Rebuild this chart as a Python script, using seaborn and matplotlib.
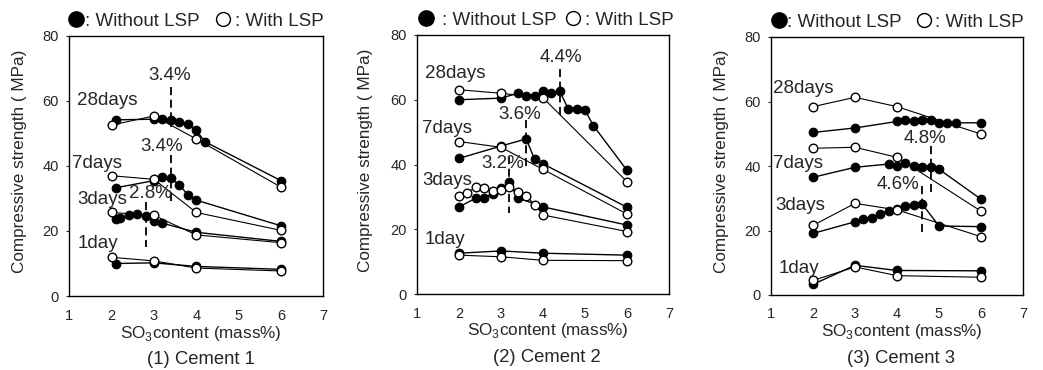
import matplotlib
matplotlib.use("Agg")
import matplotlib.pyplot as plt
import seaborn as sns
import pandas as pd

sns.set_style("ticks")
plt.rcParams['font.family'] = ['Liberation Sans', 'DejaVu Sans']
plt.rcParams['mathtext.fontset'] = 'custom'
plt.rcParams['mathtext.rm'] = 'Liberation Sans'

# ---------------- data ----------------
ages = ["28days", "7days", "3days", "1day"]

# Cement 1
c1_wo_x = {"28days": [2.1, 3.0, 3.2, 3.4, 3.6, 3.8, 4.0, 4.2, 6.0],
           "7days": [2.1, 3.0, 3.2, 3.4, 3.6, 3.8, 4.0, 6.0],
           "3days": [2.1, 2.2, 2.4, 2.6, 2.8, 3.0, 3.2, 4.0, 6.0],
           "1day": [2.1, 3.0, 4.0, 6.0]}
c1_wo_y = {"28days": [54.2, 54.4, 54.4, 54.0, 53.4, 52.8, 51.0, 47.5, 35.5],
           "7days": [33.3, 35.5, 36.6, 36.2, 34.2, 31.1, 29.5, 21.6],
           "3days": [23.6, 23.9, 24.9, 25.2, 24.7, 23.1, 22.4, 19.6, 16.8],
           "1day": [10.0, 10.2, 9.1, 8.2]}
c1_w_x = {"28days": [2, 3, 4, 6], "7days": [2, 3, 4, 6],
          "3days": [2, 3, 4, 6], "1day": [2, 3, 4, 6]}
c1_w_y = {"28days": [52.6, 55.4, 48.3, 33.5],
          "7days": [37.0, 35.9, 25.7, 20.2],
          "3days": [25.7, 24.8, 18.8, 16.4],
          "1day": [11.9, 10.8, 8.6, 7.7]}

# Cement 2
c2_wo_x = {"28days": [2, 3, 3.4, 3.6, 3.8, 4.0, 4.2, 4.4, 4.6, 4.8, 5.0, 5.2, 6],
           "7days": [2, 3, 3.6, 3.8, 4.0, 6],
           "3days": [2, 2.4, 2.6, 2.8, 3.0, 3.2, 3.4, 4.0, 6],
           "1day": [2, 3, 4, 6]}
c2_wo_y = {"28days": [60.0, 60.5, 62.0, 61.2, 61.2, 62.6, 62.0, 62.6, 57.2, 57.2, 56.8, 52.0, 38.2],
           "7days": [41.9, 45.7, 47.9, 41.6, 40.2, 26.8],
           "3days": [26.9, 29.6, 29.6, 31.0, 32.6, 34.6, 29.7, 26.9, 21.3],
           "1day": [12.6, 13.3, 12.6, 12.0]}
c2_w_x = {"28days": [2, 3, 4, 6], "7days": [2, 3, 4, 6],
          "3days": [2, 2.2, 2.4, 2.6, 2.8, 3.0, 3.2, 3.4, 3.6, 3.8, 4.0, 6],
          "1day": [2, 3, 4, 6]}
c2_w_y = {"28days": [63.1, 62.0, 60.6, 34.7],
          "7days": [47.1, 45.3, 38.5, 24.7],
          "3days": [30.4, 31.2, 33.1, 32.8, 31.9, 32.2, 33.2, 31.5, 30.3, 27.6, 24.4, 19.3],
          "1day": [12.0, 11.5, 10.4, 10.3]}

# Cement 3
c3_wo_x = {"28days": [2, 3, 4.0, 4.2, 4.4, 4.6, 4.8, 5.0, 5.2, 5.4, 6],
           "7days": [2, 3, 3.8, 4.0, 4.2, 4.4, 4.6, 4.8, 5.0, 6],
           "3days": [2, 3, 3.2, 3.4, 3.6, 3.8, 4.0, 4.2, 4.4, 4.6, 5.0, 6],
           "1day": [2, 3, 4, 6]}
c3_wo_y = {"28days": [50.4, 51.8, 53.8, 54.4, 53.8, 54.4, 54.4, 53.4, 53.4, 53.4, 53.4],
           "7days": [36.5, 39.6, 40.6, 40.0, 40.8, 40.0, 39.6, 39.8, 39.0, 29.7],
           "3days": [19.1, 22.7, 23.6, 23.9, 25.1, 26.1, 26.8, 27.6, 27.9, 28.2, 21.4, 21.2],
           "1day": [3.3, 9.2, 7.6, 7.5]}
c3_w_x = {"28days": [2, 3, 4, 6], "7days": [2, 3, 4, 6],
          "3days": [2, 3, 4, 6], "1day": [2, 3, 4, 6]}
c3_w_y = {"28days": [58.4, 61.3, 58.4, 49.9],
          "7days": [45.5, 45.8, 42.7, 26.0],
          "3days": [21.6, 28.4, 26.4, 18.1],
          "1day": [4.5, 8.7, 6.0, 5.5]}

# age label positions (data coords, left aligned)
c1_age_pos = {"28days": (1.19, 60.3), "7days": (1.07, 40.9), "3days": (1.18, 29.7), "1day": (1.2, 16.2)}
c2_age_pos = {"28days": (1.18, 68.0), "7days": (1.13, 51.2), "3days": (1.13, 35.2), "1day": (1.18, 16.9)}
c3_age_pos = {"28days": (1.04, 64.1), "7days": (1.04, 40.8), "3days": (1.10, 27.9), "1day": (1.17, 8.3)}

# optimum SO3 markers: (label, label_x, label_y, line_x, y_top, y_bottom)
c1_opt = [("3.4%", 3.37, 67.7, 3.4, 64.3, 52.0),
          ("3.4%", 3.17, 45.9, 3.4, 43.5, 29.0),
          ("2.8%", 2.92, 31.6, 2.8, 29.0, 15.2)]
c2_opt = [("4.4%", 4.43, 72.9, 4.4, 69.4, 55.3),
          ("3.6%", 3.44, 55.5, 3.6, 53.7, 39.3),
          ("3.2%", 3.03, 40.4, 3.2, 42.5, 25.0)]
c3_opt = [("4.8%", 4.67, 48.6, 4.8, 46.3, 31.5),
          ("4.6%", 4.03, 34.4, 4.6, 33.8, 19.6)]

titles = ["(1) Cement 1", "(2) Cement 2", "(3) Cement 3"]

panels = [
    dict(wo_x=c1_wo_x, wo_y=c1_wo_y, w_x=c1_w_x, w_y=c1_w_y, age=c1_age_pos, opt=c1_opt,
         rect=[69.3 / 1043, 74 / 370, 254 / 1043, 260 / 370],
         leg=(0.026, 0.062, 0.606, 0.652), ylab_x=-0.198),
    dict(wo_x=c2_wo_x, wo_y=c2_wo_y, w_x=c2_w_x, w_y=c2_w_y, age=c2_age_pos, opt=c2_opt,
         rect=[417 / 1043, 76 / 370, 252 / 1043, 259 / 370],
         leg=(0.036, 0.100, 0.620, 0.668), ylab_x=-0.206),
    dict(wo_x=c3_wo_x, wo_y=c3_wo_y, w_x=c3_w_x, w_y=c3_w_y, age=c3_age_pos, opt=c3_opt,
         rect=[771 / 1043, 75 / 370, 252 / 1043, 258 / 370],
         leg=(0.033, 0.062, 0.607, 0.652), ylab_x=-0.196),
]

fig = plt.figure(figsize=(10.43, 3.7), dpi=100)

for i, p in enumerate(panels):
    ax = fig.add_axes(p["rect"])
    for a in ages:
        df = pd.DataFrame({"x": p["wo_x"][a], "y": p["wo_y"][a]})
        sns.lineplot(data=df, x="x", y="y", ax=ax, color="black", linewidth=1.0,
                     marker="o", markersize=6.2, markerfacecolor="black",
                     markeredgecolor="black", markeredgewidth=0.8,
                     estimator=None, sort=False, zorder=3)
    for a in ages:
        df = pd.DataFrame({"x": p["w_x"][a], "y": p["w_y"][a]})
        sns.lineplot(data=df, x="x", y="y", ax=ax, color="black", linewidth=0.8,
                     marker="o", markersize=6.2, markerfacecolor="white",
                     markeredgecolor="black", markeredgewidth=1.0,
                     estimator=None, sort=False, zorder=4)
    for a in ages:
        tx, ty = p["age"][a]
        ax.text(tx, ty, a, fontsize=13.5, ha="left", va="center", zorder=5)
    for lab, lx, ly, vx, yt, yb in p["opt"]:
        ax.text(lx, ly, lab, fontsize=13.5, ha="center", va="center", zorder=5)
        ax.plot([vx, vx], [yt, yb], color="black", linewidth=1.3,
                linestyle=(0, (4.5, 2.5)), zorder=2)

    ax.set_xlim(1, 7)
    ax.set_ylim(0, 80)
    ax.set_xticks([1, 2, 3, 4, 5, 6, 7])
    ax.set_yticks([0, 20, 40, 60, 80])
    ax.tick_params(axis="y", direction="out", length=2.5, width=0.8, pad=5, labelsize=10.5)
    ax.tick_params(axis="x", direction="in", length=0, pad=9, labelsize=10.5)
    for s in ax.spines.values():
        s.set_visible(True)
        s.set_linewidth(1.0)
        s.set_color("black")

    ax.set_xlabel("SO$_3$content (mass%)", fontsize=12.3, va="baseline")
    ax.xaxis.set_label_coords(0.517, -0.16)
    ax.set_ylabel("Compressive strength ( MPa)", fontsize=12.3, va="center")
    ax.yaxis.set_label_coords(p["ylab_x"], 0.517)
    ax.text(0.517, -0.263, titles[i], transform=ax.transAxes, fontsize=13.3,
            ha="center", va="baseline")

    # legend header
    f_c, f_t, o_c, o_t = p["leg"]
    ax.plot([f_c], [1.067], transform=ax.transAxes, marker="o", markersize=11,
            color="black", clip_on=False, linestyle="none")
    ax.text(f_t, 1.038, ": Without LSP", transform=ax.transAxes, fontsize=13.5,
            ha="left", va="baseline")
    ax.plot([o_c], [1.067], transform=ax.transAxes, marker="o", markersize=10,
            markerfacecolor="white", markeredgecolor="black", markeredgewidth=1.0,
            clip_on=False, linestyle="none")
    ax.text(o_t, 1.038, ": With LSP", transform=ax.transAxes, fontsize=13.5,
            ha="left", va="baseline")

fig.savefig("out.png", dpi=100)
